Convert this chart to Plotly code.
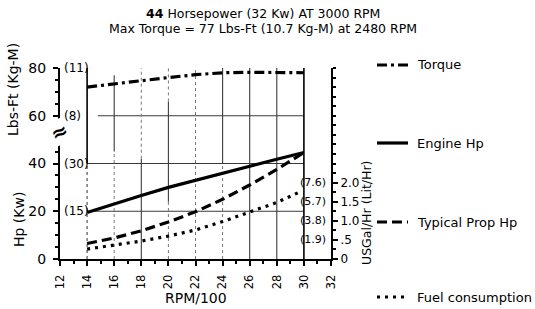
import plotly.graph_objects as go

# ---------------- data ----------------
rpm = [14, 16, 18, 20, 22, 24, 26, 28, 30]
torque_lbft = [72, 73.4, 74.7, 76, 77.2, 78, 78.2, 78.2, 78]
engine_hp = [19.5, 23.2, 26.6, 30, 33, 36, 39, 41.8, 44.6]
prop_hp = [6.5, 8.8, 11.8, 15.5, 19.8, 25, 31, 37.5, 44.6]
fuel_rpm = [14, 16, 18, 20, 22, 24, 26, 28, 29.6]
fuel_gph = [0.26, 0.36, 0.47, 0.6, 0.76, 0.98, 1.22, 1.48, 1.74]

x_tick_vals = [12, 14, 16, 18, 20, 22, 24, 26, 28, 30, 32]
left_tick_vals = [0, 20, 40, 60, 80]
left_alt_vals = [80, 60, 40, 20]
left_alt_text = ["(11)", "(8)", "(30)", "(15)"]
right_tick_vals = [0, 0.5, 1.0, 1.5, 2.0]
right_tick_text = ["0", ".5", "1.0", "1.5", "2.0"]
right_alt_vals = [2.0, 1.5, 1.0, 0.5]
right_alt_text = ["(7.6)", "(5.7)", "(3.8)", "(1.9)"]

series_names = ["Torque", "Engine Hp", "Typical Prop Hp", "Fuel consumption"]
title_1 = "<b>44</b> Horsepower (32 Kw) AT 3000 RPM"
title_2 = "Max Torque = 77 Lbs-Ft (10.7 Kg-M) at 2480 RPM"

# ---------------- layout geometry ----------------
W, H = 535, 309
ML, MR, MT, MB = 60, 204, 68, 50
PW, PH = W - ML - MR, H - MT - MB
FONT = "DejaVu Sans, sans-serif"


def px(x):
    return (x - ML) / PW


def py(y):
    return (H - MB - y) / PH


DASH_TORQUE = "10px,4px,3px,4px"
DASH_PROP = "10px,5px"
DASH_FUEL = "3px,5px"

fig = go.Figure()
fig.add_trace(go.Scatter(x=rpm, y=torque_lbft, mode="lines", name=series_names[0],
                         line=dict(color="black", width=3.2, dash=DASH_TORQUE)))
fig.add_trace(go.Scatter(x=rpm, y=engine_hp, mode="lines", name=series_names[1],
                         line=dict(color="black", width=3.2)))
fig.add_trace(go.Scatter(x=rpm, y=prop_hp, mode="lines", name=series_names[2],
                         line=dict(color="black", width=3.2, dash=DASH_PROP)))
fig.add_trace(go.Scatter(x=fuel_rpm, y=fuel_gph, mode="lines", name=series_names[3],
                         yaxis="y2", line=dict(color="black", width=3.2, dash=DASH_FUEL)))

shapes = []
grid_col = "#3a3a3a"


def seg(x0, y0, x1, y1, dash="solid", w=1.1, col=grid_col):
    shapes.append(dict(type="line", xref="x", yref="y", x0=x0, y0=y0, x1=x1, y1=y1,
                       layer="below", line=dict(color=col, width=w, dash=dash)))


# horizontal grid
seg(14.8, 60, 30, 60)
seg(14, 40, 30, 40)
seg(14, 20, 30, 20)
# vertical grid (partially solid as in the scan)
seg(16, 0, 16, 45, "dot", 1, "#777")
seg(16, 45, 16, 77)
seg(18, 0, 18, 42)
seg(18, 42, 18, 80, "dot", 1, "#777")
seg(20, 24, 20, 66)
seg(20, 66, 20, 80, "dot", 1, "#777")
seg(20, 0, 20, 24, "dot", 1, "#777")
seg(22, 0, 22, 80, "dot", 1, "#777")
seg(24, 40, 24, 80)
seg(24, 0, 24, 40, "dot", 1, "#777")
seg(26, 0, 26, 80)
seg(28, 0, 28, 80)
# frame lines
seg(14, 40, 14, 81, "solid", 1.6, "black")
seg(14, 0, 14, 40, "dot", 1.2, "#555")
seg(30, 0, 30, 81, "solid", 1.6, "black")

# legend samples (paper coords)
leg_y = [65, 143, 222, 297]
leg_dash = [DASH_TORQUE, "solid", DASH_PROP, DASH_FUEL]
annotations = []
for name, yy, d in zip(series_names, leg_y, leg_dash):
    shapes.append(dict(type="line", xref="paper", yref="paper",
                       x0=px(377), x1=px(408), y0=py(yy), y1=py(yy),
                       line=dict(color="black", width=3.2, dash=d)))
    annotations.append(dict(xref="paper", yref="paper", x=px(415), y=py(yy),
                            xanchor="left", yanchor="middle", showarrow=False,
                            text=name, font=dict(size=13, color="black", family=FONT)))

# titles
annotations.append(dict(xref="paper", yref="paper", x=px(263), y=py(13.5), xanchor="center",
                        yanchor="middle", showarrow=False, text=title_1,
                        font=dict(size=12.5, color="black", family=FONT)))
annotations.append(dict(xref="paper", yref="paper", x=px(263), y=py(28.5), xanchor="center",
                        yanchor="middle", showarrow=False, text=title_2,
                        font=dict(size=12.5, color="black", family=FONT)))

# left axis titles
annotations.append(dict(xref="paper", yref="paper", x=px(13), y=py(90), textangle=-90,
                        xanchor="center", yanchor="middle", showarrow=False,
                        text="Lbs-Ft (Kg-M)", font=dict(size=14, color="black", family=FONT)))
annotations.append(dict(xref="paper", yref="paper", x=px(19), y=py(220), textangle=-90,
                        xanchor="center", yanchor="middle", showarrow=False,
                        text="Hp (Kw)", font=dict(size=14, color="black", family=FONT)))
# right axis title
annotations.append(dict(xref="paper", yref="paper", x=px(366), y=py(213), textangle=-90,
                        xanchor="center", yanchor="middle", showarrow=False,
                        text="USGal/Hr (Lit/Hr)", font=dict(size=12.5, color="black", family=FONT)))

# metric side labels
for v, t in zip(left_alt_vals, left_alt_text):
    annotations.append(dict(xref="x", yref="y", x=12.15, y=v, xanchor="left",
                            yanchor="middle", showarrow=False, text=t,
                            font=dict(size=12, color="black", family=FONT)))
for v, t in zip(right_alt_vals, right_alt_text):
    annotations.append(dict(xref="x", yref="y2", x=31.8, y=v, xanchor="right",
                            yanchor="middle", showarrow=False, text=t,
                            font=dict(size=11, color="black", family=FONT)))

# axis break mark
annotations.append(dict(xref="paper", yref="paper", x=px(59), y=py(132), showarrow=False,
                        text="<b>≈</b>", textangle=-25, bgcolor="white",
                        font=dict(size=20, color="black", family=FONT),
                        xanchor="center", yanchor="middle", borderpad=0))

# x-axis title
annotations.append(dict(xref="paper", yref="paper", x=px(196), y=py(298), showarrow=False,
                        text="RPM/100", xanchor="center", yanchor="middle",
                        font=dict(size=14, color="black", family=FONT)))

fig.update_layout(
    width=W, height=H,
    margin=dict(l=ML, r=MR, t=MT, b=MB, pad=0, autoexpand=False),
    paper_bgcolor="white", plot_bgcolor="white",
    showlegend=False,
    font=dict(family=FONT, size=13, color="black"),
    xaxis=dict(range=[12, 32], tickvals=x_tick_vals, ticktext=[str(v) for v in x_tick_vals],
               tickangle=-90, tickfont=dict(size=11.5), showgrid=False, zeroline=False,
               showline=True, linecolor="black", linewidth=2, automargin=False,
               ticks="outside", ticklen=5, tickwidth=1.5, tickcolor="black",
               minor=dict(dtick=1, ticks="outside", ticklen=3, tickcolor="black"),
               ticklabelstandoff=4),
    yaxis=dict(range=[0, 80], tickvals=left_tick_vals, showgrid=False, zeroline=False,
               showline=True, linecolor="black", linewidth=2, automargin=False,
               ticks="outside", ticklen=5, tickwidth=1.5, tickcolor="black",
               minor=dict(dtick=5, ticks="outside", ticklen=3, tickcolor="black"),
               tickfont=dict(size=14), ticklabelstandoff=4),
    yaxis2=dict(range=[0, 5], overlaying="y", side="right", anchor="x",
                tickvals=right_tick_vals, ticktext=right_tick_text, automargin=False,
                showgrid=False, zeroline=False, showline=True, linecolor="black", linewidth=2,
                ticks="outside", ticklen=5, tickwidth=1.5, tickcolor="black",
                minor=dict(dtick=0.25, ticks="outside", ticklen=3, tickcolor="black"),
                tickfont=dict(size=12)),
    shapes=shapes,
    annotations=annotations,
)

fig.write_html("out.html", post_script="document.body.style.margin='0';",
               config={"displayModeBar": False})
